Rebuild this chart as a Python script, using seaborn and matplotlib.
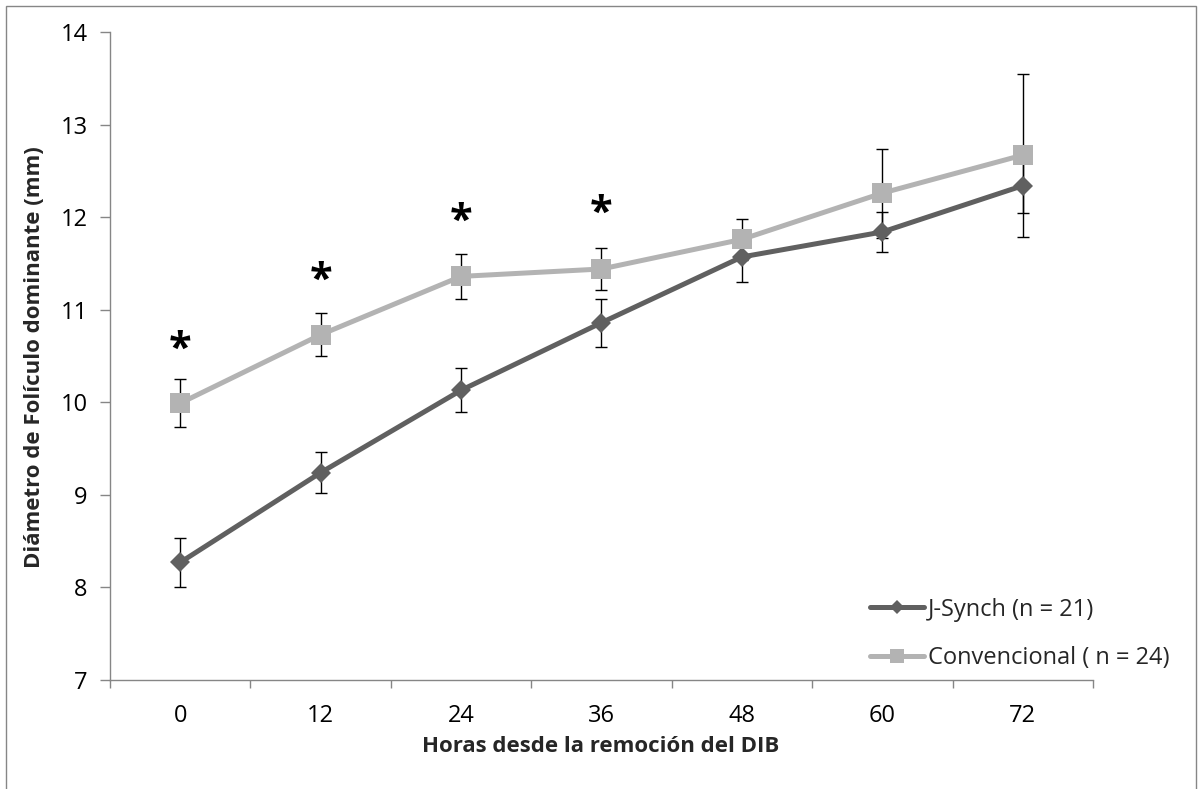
import numpy as np
import pandas as pd
import matplotlib
matplotlib.use('Agg')
import matplotlib.pyplot as plt
import seaborn as sns
from matplotlib.patches import Rectangle

# data
horas = ['0', '12', '24', '36', '48', '60', '72']
jsynch = [8.27, 9.24, 10.13, 10.86, 11.57, 11.84, 12.34]
jsynch_err = [0.26, 0.22, 0.24, 0.26, 0.27, 0.22, 0.30]
conv = [9.99, 10.73, 11.36, 11.44, 11.76, 12.26, 12.67]
conv_err = [0.26, 0.23, 0.24, 0.23, 0.22, 0.48, 0.88]
ast_horas = ['0', '12', '24', '36']
ast_y = [10.70, 11.45, 12.08, 12.17]

df = pd.DataFrame({'pos': np.arange(len(horas)), 'hora': horas,
                   'jsynch': jsynch, 'jsynch_err': jsynch_err,
                   'conv': conv, 'conv_err': conv_err})

sns.set_theme(style='white')
plt.rcParams['font.family'] = ['Open Sans', 'DejaVu Sans']

fig = plt.figure(figsize=(11.98, 7.89), dpi=100)
ax = fig.add_axes([110/1198, 1-680/789, (1093-110)/1198, (680-32)/789])

ax.errorbar(df['pos'], df['jsynch'], yerr=df['jsynch_err'], fmt='none', ecolor='black',
            elinewidth=1, capsize=4, capthick=1, zorder=2)
ax.errorbar(df['pos'], df['conv'], yerr=df['conv_err'], fmt='none', ecolor='black',
            elinewidth=1, capsize=4, capthick=1, zorder=2)

sns.lineplot(data=df, x='pos', y='jsynch', color='#606060', lw=3.6, marker='D', markersize=10,
             markeredgewidth=0, ax=ax, label='J-Synch (n = 21)', zorder=3)
sns.lineplot(data=df, x='pos', y='conv', color='#b3b3b3', lw=3.6, marker='s', markersize=14,
             markeredgewidth=0, ax=ax, label='Convencional ( n = 24)', zorder=4)

# significance stars
ast_fs = 30
pos_of = dict(zip(horas, df['pos']))
for h, yv in zip(ast_horas, ast_y):
    ax.annotate('*', (pos_of[h], yv), xytext=(0, -0.56*ast_fs), textcoords='offset points',
                ha='center', va='baseline', fontsize=ast_fs, fontweight='bold', color='black')

ax.set_xlim(-0.5, len(horas)-0.5)
ax.set_ylim(7, 14)
ax.set_yticks(range(7, 15))
ax.set_xticks(np.arange(-0.5, len(horas), 1))
ax.set_xticklabels([])
ax.set_xticks(df['pos'], minor=True)
ax.set_xticklabels(horas, minor=True)
ax.tick_params(axis='x', which='major', length=6, width=1, color='#868686', direction='out', bottom=True)
ax.tick_params(axis='x', which='minor', length=0, pad=17, labelsize=17, labelcolor='black')
ax.tick_params(axis='y', length=7, width=1, color='#868686', direction='out', left=True, pad=9,
               labelsize=17, labelcolor='black')
for s in ['top', 'right']:
    ax.spines[s].set_visible(False)
for s in ['left', 'bottom']:
    ax.spines[s].set_color('#868686')
    ax.spines[s].set_linewidth(1)
ax.set_xlabel('')
ax.set_ylabel('')

fig.text(601/1198, 1-746/789, 'Horas desde la remoción del DIB', ha='center', va='center',
         fontsize=16, fontweight='bold')
fig.text(35/1198, 1-357/789, 'Diámetro de Folículo dominante (mm)', ha='center', va='center',
         rotation=90, fontsize=16, fontweight='bold')

h, l = ax.get_legend_handles_labels()
ax.legend(h, l, loc='center left', bbox_to_anchor=(870/1198, 1-634/789), bbox_transform=fig.transFigure,
          frameon=False, handlelength=2.3, handletextpad=0.15, labelspacing=1.05, borderpad=0,
          borderaxespad=0, fontsize=17, markerscale=0.75)

fig.add_artist(Rectangle((6/1198, -0.01), 1190/1198, 1-6/789+0.01, transform=fig.transFigure,
                         fill=False, edgecolor='#868686', lw=1))

fig.savefig('out.png', dpi=100)
